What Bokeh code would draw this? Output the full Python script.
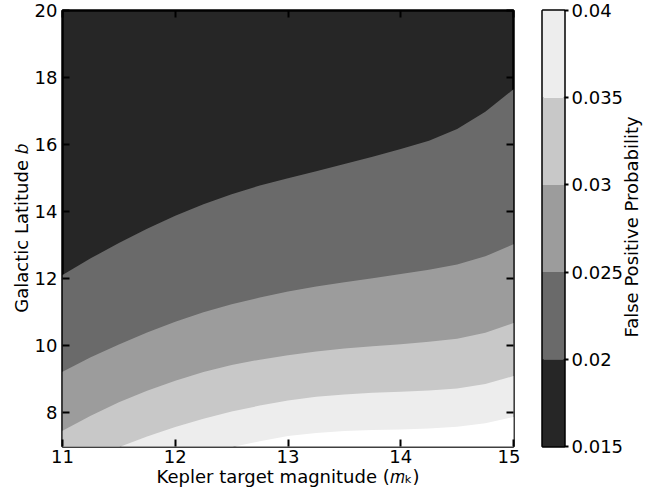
import math
from bokeh.plotting import figure
from bokeh.layouts import row
from bokeh.models import Range1d, LinearAxis, FixedTicker, CustomJSTickFormatter
from bokeh.embed import file_html
from bokeh.resources import INLINE

# Kepler magnitude sample positions where the contour boundaries were read
mag = [11.0, 11.25, 11.5, 11.75, 12.0, 12.25, 12.5, 12.75, 13.0,
       13.25, 13.5, 13.75, 14.0, 14.25, 14.5, 14.75, 15.0]

# Galactic latitude of each contour boundary (false positive probability level)
b_020 = [12.11, 12.61, 13.07, 13.49, 13.88, 14.22, 14.52, 14.78, 15.00,
         15.21, 15.42, 15.64, 15.87, 16.12, 16.47, 16.98, 17.65]
b_025 = [9.23, 9.66, 10.04, 10.40, 10.72, 11.00, 11.24, 11.44, 11.62,
         11.77, 11.90, 12.02, 12.14, 12.27, 12.43, 12.67, 13.03]
b_030 = [7.47, 7.92, 8.32, 8.66, 8.96, 9.22, 9.43, 9.59, 9.72,
         9.83, 9.92, 9.99, 10.05, 10.12, 10.21, 10.39, 10.68]
b_035 = [6.35, 6.67, 6.98, 7.30, 7.58, 7.83, 8.04, 8.22, 8.37,
         8.48, 8.55, 8.60, 8.63, 8.67, 8.73, 8.86, 9.10]
b_040 = [5.70, 6.00, 6.28, 6.40, 6.60, 6.80, 6.98, 7.16, 7.31,
         7.40, 7.46, 7.49, 7.51, 7.54, 7.59, 7.69, 7.88]

levels = [0.015, 0.02, 0.025, 0.03, 0.035, 0.04]
level_labels = ["0.015", "0.02", "0.025", "0.03", "0.035", "0.04"]
band_colors = ["#262626", "#6a6a6a", "#9c9c9c", "#c8c8c8", "#ededed"]
above_color = "#ffffff"
colorbar_title = "False Positive Probability"

x_ticks = [11, 12, 13, 14, 15]
y_ticks = [8, 10, 12, 14, 16, 18, 20]

FONT = "DejaVu Sans"
FS = "18px"

xmin, xmax, ymin, ymax = 11, 15, 7, 20

p = figure(width=520, height=490, x_range=Range1d(xmin, xmax), y_range=Range1d(ymin, ymax),
           output_backend="svg", toolbar_location=None,
           min_border_left=62, min_border_right=7, min_border_top=10, min_border_bottom=44)
p.xgrid.visible = False
p.ygrid.visible = False
p.background_fill_color = band_colors[0]
p.border_fill_color = "white"
p.outline_line_color = "black"
p.outline_line_width = 2.5

boundaries = [b_020, b_025, b_030, b_035, b_040]
fills = band_colors[1:] + [above_color]
base = [ymin] * len(mag)
for bnd, col in zip(boundaries, fills):
    p.varea(x=mag, y1=base, y2=bnd, fill_color=col)


def style_axis(ax, labels=True):
    ax.axis_line_color = None
    ax.major_tick_in = 7
    ax.major_tick_out = 0
    ax.major_tick_line_color = "black"
    ax.major_tick_line_width = 2
    ax.minor_tick_line_color = None
    ax.major_label_text_font = FONT
    ax.major_label_text_font_size = FS
    ax.major_label_text_color = "black"
    ax.axis_label_text_font = FONT
    ax.axis_label_text_font_size = FS
    ax.axis_label_text_font_style = "normal"
    ax.axis_label_text_color = "black"
    if not labels:
        ax.formatter = CustomJSTickFormatter(code="return ''")
        ax.major_label_standoff = 0


p.xaxis.ticker = FixedTicker(ticks=x_ticks)
p.yaxis.ticker = FixedTicker(ticks=y_ticks)
style_axis(p.xaxis[0])
style_axis(p.yaxis[0])
p.xaxis.major_label_standoff = 3
p.xaxis.axis_label_standoff = 0
p.yaxis.major_label_standoff = 5
p.yaxis.axis_label_standoff = 0
p.xaxis.axis_label = "Kepler target magnitude (𝑚ₖ)"
p.yaxis.axis_label = "Galactic Latitude 𝑏"

ra = LinearAxis(ticker=FixedTicker(ticks=y_ticks))
style_axis(ra, labels=False)
p.add_layout(ra, "right")
ta = LinearAxis(ticker=FixedTicker(ticks=x_ticks))
style_axis(ta, labels=False)
p.add_layout(ta, "above")

# colorbar as its own figure
cb = figure(width=149, height=490, x_range=Range1d(0, 1), y_range=Range1d(levels[0], levels[-1]),
            output_backend="svg", toolbar_location=None,
            min_border_left=22, min_border_right=105, min_border_top=10, min_border_bottom=44)
cb.xgrid.visible = False
cb.ygrid.visible = False
cb.xaxis.visible = False
cb.yaxis.visible = False
cb.outline_line_color = "black"
cb.outline_line_width = 2.5
cb.background_fill_color = "white"
cb.quad(left=0, right=1, bottom=levels[:-1], top=levels[1:], fill_color=band_colors, line_color=None)

cax = LinearAxis(ticker=FixedTicker(ticks=levels),
                 major_label_overrides={lv: lab for lv, lab in zip(levels, level_labels)})
cax.axis_line_color = None
cax.major_tick_in = 0
cax.major_tick_out = 4
cax.major_tick_line_width = 2
cax.major_tick_line_color = "black"
cax.minor_tick_line_color = None
cax.major_label_standoff = 3
cax.major_label_text_font = FONT
cax.major_label_text_font_size = FS
cax.major_label_text_color = "black"
cb.add_layout(cax, "right")

# colorbar title, drawn as a single rotated label of an outer axis
# (anchor is where the rotated text begins, i.e. its bottom end)
title_anchor = 0.02125
tax = LinearAxis(ticker=FixedTicker(ticks=[title_anchor]),
                 major_label_overrides={title_anchor: colorbar_title})
tax.axis_line_color = None
tax.major_tick_line_color = None
tax.minor_tick_line_color = None
tax.major_tick_in = 0
tax.major_tick_out = 0
tax.major_label_standoff = 5
tax.major_label_orientation = math.pi / 2
tax.major_label_text_font = FONT
tax.major_label_text_font_size = FS
tax.major_label_text_color = "black"
cb.add_layout(tax, "right")

layout = row(p, cb, spacing=0)
open("out.html", "w").write(file_html(layout, INLINE))
